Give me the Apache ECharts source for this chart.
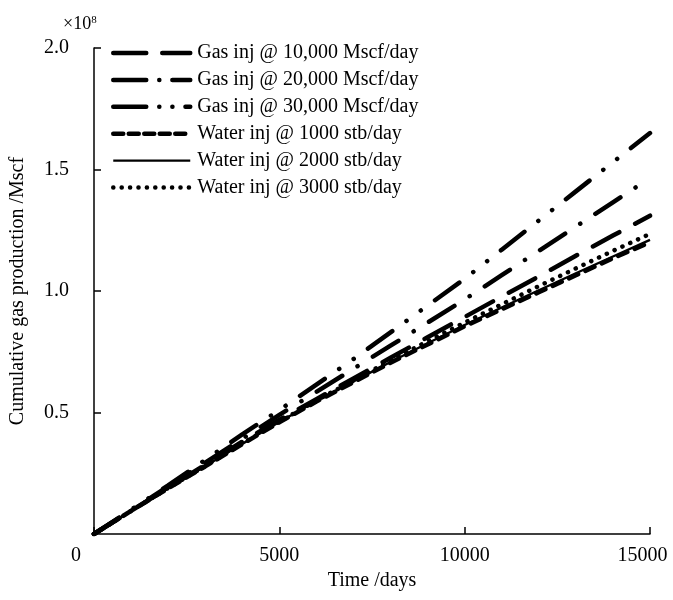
<!DOCTYPE html>
<html><head><meta charset="utf-8">
<script src="https://cdn.jsdelivr.net/npm/echarts@6/dist/echarts.min.js"></script>
<style>html,body{margin:0;padding:0;background:#fff}#c{width:673px;height:600px}</style>
</head><body><div id="c"></div>
<script>
const days = [0,1000,2000,3000,4000,5000,6000,7000,8000,9000,10000,11000,12000,13000,14000,15000];
const seriesNames = ['Gas inj @ 10,000 Mscf/day','Gas inj @ 20,000 Mscf/day','Gas inj @ 30,000 Mscf/day','Water inj @ 1000 stb/day','Water inj @ 2000 stb/day','Water inj @ 3000 stb/day'];
// cumulative gas production, units of 1e8 Mscf
const gas10 = [0,0.095,0.19,0.285,0.38,0.47,0.555,0.64,0.725,0.81,0.893,0.977,1.06,1.145,1.228,1.31];
const gas20 = [0,0.098,0.196,0.294,0.392,0.49,0.585,0.68,0.775,0.87,0.965,1.065,1.165,1.265,1.365,1.465];
const gas30 = [0,0.1,0.2,0.305,0.41,0.51,0.615,0.72,0.83,0.94,1.05,1.17,1.29,1.41,1.53,1.65];
const water1000 = [0,0.095,0.188,0.278,0.37,0.46,0.545,0.625,0.705,0.78,0.855,0.925,0.995,1.065,1.135,1.20];
const water2000 = [0,0.095,0.188,0.279,0.371,0.461,0.547,0.628,0.708,0.785,0.86,0.932,1.003,1.073,1.142,1.21];
const water3000 = [0,0.095,0.189,0.28,0.372,0.462,0.549,0.632,0.714,0.793,0.87,0.945,1.02,1.093,1.165,1.235];
const xTicks = [0,5000,10000,15000];
const yTicks = [0.5,1.0,1.5,2.0];

const font = 'Liberation Serif';
const styles = [
  {w:4.5, type:[30,18], cap:'round'},
  {w:4.5, type:[30,18,0.1,18], cap:'round'},
  {w:4.5, type:[30,17.5,0.1,17.5,0.1,17.5], cap:'round'},
  {w:4.5, type:[10,8], cap:'round'},
  {w:2.4, type:'solid', cap:'butt'},
  {w:4.5, type:[0.1,8.5], cap:'round'}
];
const legendStyles = [
  {w:4.5, type:[33,16], cap:'round'},
  {w:4.5, type:[33,13,0.1,13], cap:'round'},
  {w:4.5, type:[33,13,0.1,13,0.1,13], cap:'round'},
  {w:4.5, type:[10,5.5], cap:'round'},
  {w:2.4, type:'solid', cap:'butt'},
  {w:4.5, type:[0.1,8.3], cap:'round'}
];
const allData = [gas10,gas20,gas30,water1000,water2000,water3000];
const series = allData.map((arr,i)=>({
  name: seriesNames[i], type:'line', symbol:'none', showSymbol:false, smooth:false,
  data: days.map((d,j)=>[d,arr[j]]),
  lineStyle:{color:'#000', width:styles[i].w, type:styles[i].type, cap:styles[i].cap},
  itemStyle:{color:'#000'},
  z: 10-i
}));
const chart = echarts.init(document.getElementById('c'), null, {renderer:'canvas'});
chart.setOption({
  animation:false,
  backgroundColor:'#fff',
  title:{text:'×10{s|8}', left:58, top:10, textStyle:{fontFamily:font, fontSize:18, fontWeight:'normal', color:'#000', rich:{s:{fontFamily:font, fontSize:11, verticalAlign:'top', padding:[0,0,8,0], color:'#000'}}}},
  legend:{
    orient:'vertical', left:106, top:38, itemWidth:77, itemHeight:14, itemGap:6.9,
    data: seriesNames.map((n,i)=>({name:n,
      itemStyle:{color:'rgba(0,0,0,0)', borderWidth:0},
      lineStyle:{color:'#000', width:legendStyles[i].w, type:legendStyles[i].type, cap:legendStyles[i].cap, opacity:1}})),
    textStyle:{fontFamily:font, fontSize:20, color:'#000', padding:[0,0,0,2]},
    inactiveColor:'#000'
  },
  grid:{left:94, right:23, top:48, bottom:66, containLabel:false, outerBoundsMode:'none'},
  xAxis:{
    type:'value', min:0, max:15000, interval:5000,
    name:'Time /days', nameLocation:'middle', nameGap:34,
    nameTextStyle:{fontFamily:font, fontSize:20, color:'#000'},
    axisLine:{show:true, lineStyle:{color:'#000', width:1.5}},
    axisTick:{show:true, inside:true, length:7, lineStyle:{color:'#000', width:1.5}},
    splitLine:{show:false},
    axisLabel:{fontFamily:font, fontSize:20, color:'#000', margin:12,
      formatter:v=> xTicks.indexOf(v)===0 ? '{z|'+v+'}' : (v===xTicks[xTicks.length-1] ? '{e|'+v+'}' : String(v)),
      rich:{z:{fontFamily:font, fontSize:20, color:'#000', padding:[0,36,0,0]},
            e:{fontFamily:font, fontSize:20, color:'#000', padding:[0,15,0,0]}}}
  },
  yAxis:{
    type:'value', min:0, max:2.0, interval:0.5,
    name:'Cumulative gas production /Mscf', nameLocation:'middle', nameGap:66,
    nameTextStyle:{fontFamily:font, fontSize:20, color:'#000'},
    axisLine:{show:true, lineStyle:{color:'#000', width:1.5}},
    axisTick:{show:true, inside:true, length:7, lineStyle:{color:'#000', width:1.5}},
    splitLine:{show:false},
    axisLabel:{fontFamily:font, fontSize:20, color:'#000', margin:25, showMinLabel:false,
      formatter:v=> yTicks.indexOf(v)>=0 ? v.toFixed(1) : ''}
  },
  series: series
});
</script></body></html>
